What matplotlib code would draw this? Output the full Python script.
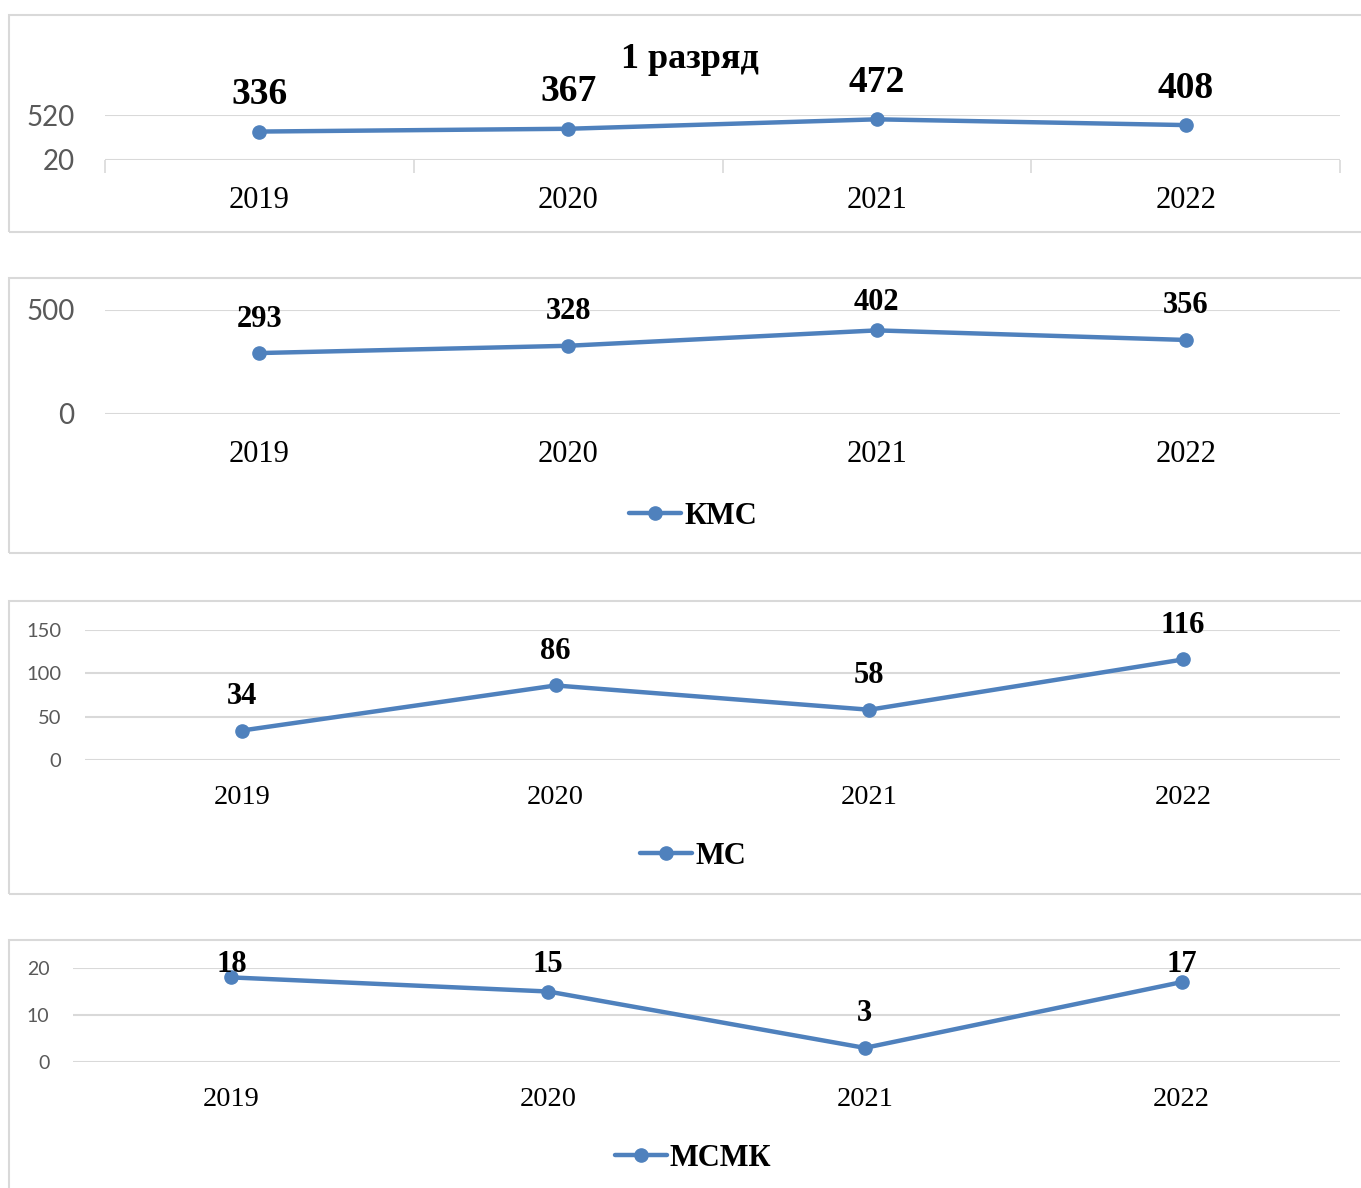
import matplotlib
matplotlib.use("Agg")
import matplotlib.pyplot as plt
from matplotlib.patches import Rectangle

# data
years = ['2019', '2020', '2021', '2022']
razryad1 = [336, 367, 472, 408]
kms = [293, 328, 402, 356]
ms = [34, 86, 58, 116]
msmk = [18, 15, 3, 17]

W, H = 1361, 1188
BLUE = '#4F81BD'
GRID = '#d9d9d9'
SERIF = 'Liberation Serif'
SANS = 'Lato'

fig = plt.figure(figsize=(W / 100, H / 100), dpi=100)


def px_axes(left, top, right, bottom):
    return fig.add_axes([left / W, 1 - bottom / H, (right - left) / W, (bottom - top) / H])


def frame(left, top, right, bottom):
    fig.patches.append(Rectangle((left / W, 1 - bottom / H), (right - left) / W, (bottom - top) / H,
                                 transform=fig.transFigure, fill=False, edgecolor=GRID, lw=1.5))


panels = [
    # values, ylim, yticks, axes box (l,t,r,b), frame (t,b), label size/offset, tick sizes and pads,
    # label ceiling, legend name, legend y
    dict(vals=razryad1, ylim=(20, 520), yticks=[20, 520], box=(105, 115, 1340, 160), fr=(15, 232),
         lsize=27, loff=37, xsize=22, ysize=20, ypad=22, xpad=19, ceil=0, leg=None, legy=None, ticks=True),
    dict(vals=kms, ylim=(0, 500), yticks=[0, 500], box=(105, 310, 1340, 414), fr=(278, 553),
         lsize=22, loff=34, xsize=22, ysize=20, ypad=22, xpad=19, ceil=303, leg='КМС', legy=516, ticks=False),
    dict(vals=ms, ylim=(0, 150), yticks=[0, 50, 100, 150], box=(85, 630, 1340, 760), fr=(601, 894),
         lsize=22, loff=34, xsize=20.5, ysize=14.5, ypad=17, xpad=18, ceil=0, leg='МС', legy=856, ticks=False),
    dict(vals=msmk, ylim=(0, 20), yticks=[0, 10, 20], box=(73, 968, 1340, 1062), fr=(940, 1200),
         lsize=22, loff=34, xsize=20.5, ysize=14, ypad=17, xpad=18, ceil=964, leg='МСМК', legy=1158, ticks=False),
]

for p in panels:
    frame(9, p['fr'][0], 1375, p['fr'][1])
    ax = px_axes(*p['box'])
    x = range(len(years))
    line, = ax.plot(x, p['vals'], color=BLUE, lw=3.2, marker='o', ms=9.5, clip_on=False,
                    solid_capstyle='round', zorder=3)
    ax.set_xlim(-0.5, len(years) - 0.5)
    ax.set_ylim(*p['ylim'])
    ax.set_yticks(p['yticks'])
    ax.set_xticks(list(x))
    ax.set_xticklabels(years, fontfamily=SERIF, fontsize=p['xsize'])
    ax.tick_params(axis='x', length=0, pad=p['xpad'], colors='black')
    ax.tick_params(axis='y', length=0, pad=p['ypad'], labelcolor='#595959', labelsize=p['ysize'])
    for t in ax.get_yticklabels():
        t.set_fontfamily(SANS)
    if p['ticks']:
        ax.set_xticks([i - 0.5 for i in range(len(years) + 1)], minor=True)
        ax.tick_params(axis='x', which='minor', length=9, width=1.2, color=GRID, direction='out')
    for s in ax.spines.values():
        s.set_visible(False)
    ax.yaxis.grid(True, color=GRID, lw=1.5)
    ax.set_axisbelow(True)
    ax.patch.set_alpha(0)

    for i, v in enumerate(p['vals']):
        py = H - ax.transData.transform((i, v))[1]
        ly = max(py - p['loff'], p['ceil'])
        ax.annotate(str(v), xy=(i, v), xytext=(0, py - ly), textcoords='offset pixels',
                    ha='center', va='center', fontfamily=SERIF, fontweight='bold',
                    fontsize=p['lsize'], annotation_clip=False)

    if p['leg']:
        fig.legend([line], [p['leg']], loc='center', bbox_to_anchor=(693 / W, 1 - p['legy'] / H),
                   frameon=False, handlelength=1.7, handletextpad=0.1,
                   prop=dict(family=SERIF, weight='bold', size=22))

fig.text(690 / W, 1 - 59 / H, '1 разряд', ha='center', va='center', fontfamily=SERIF,
         fontweight='bold', fontsize=26)

fig.savefig('out.png', dpi=100, facecolor='white')
